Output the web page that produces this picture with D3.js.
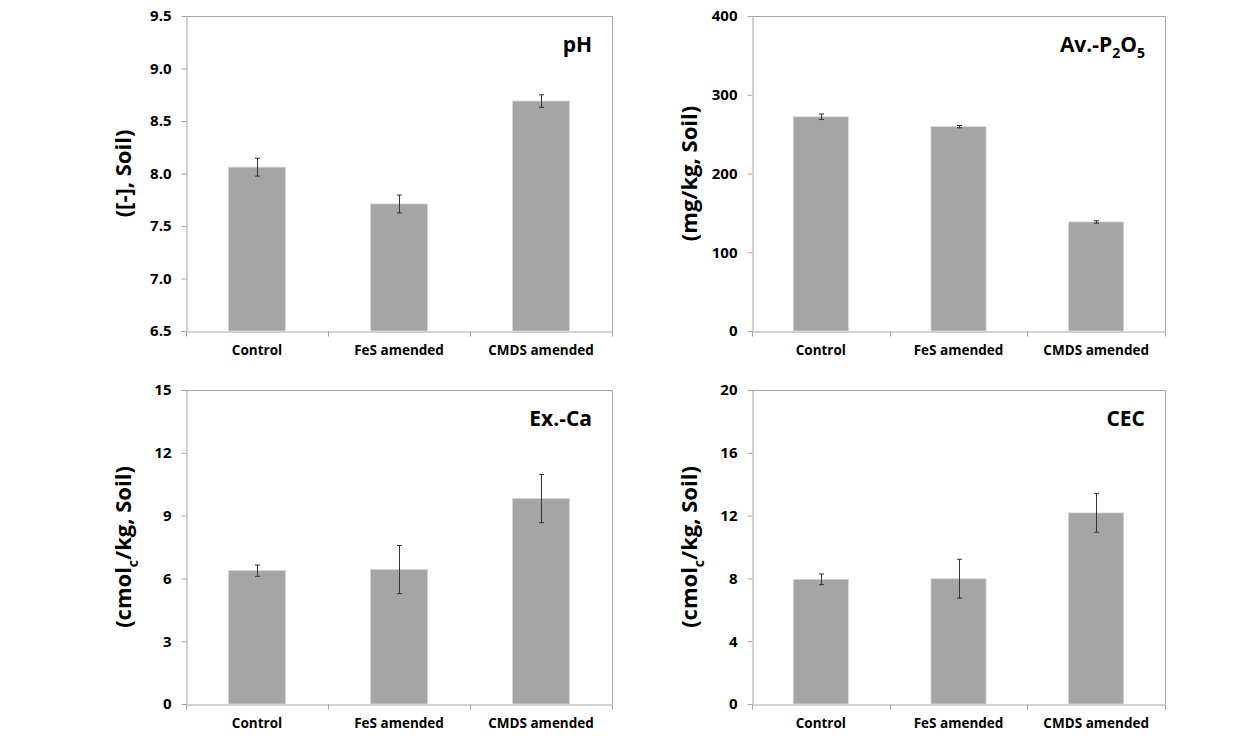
<!DOCTYPE html>
<meta charset="utf-8">
<style>
body { margin: 0; background: #fff; }
svg text { font-family: "Open Sans", "Noto Sans", sans-serif; font-weight: 700; fill: #000; }
.tick-label { font-size: 15px; }
.cat-label { font-size: 13.5px; }
.y-title { font-size: 22px; }
.panel-title { font-size: 21px; }
</style>
<svg width="1239" height="745"></svg>
<script src="https://cdn.jsdelivr.net/npm/d3@7"></script>
<script>

var categories = ["Control", "FeS amended", "CMDS amended"];

var phValues = [8.06, 7.71, 8.69],
    phErrors = [0.085, 0.085, 0.06],
    phTicks = [6.5, 7.0, 7.5, 8.0, 8.5, 9.0, 9.5];

var p2o5Values = [272, 259.5, 138.5],
    p2o5Errors = [3.5, 1.5, 1.5],
    p2o5Ticks = [0, 100, 200, 300, 400];

var caValues = [6.37, 6.42, 9.81],
    caErrors = [0.27, 1.15, 1.15],
    caTicks = [0, 3, 6, 9, 12, 15];

var cecValues = [7.94, 7.98, 12.17],
    cecErrors = [0.34, 1.24, 1.23],
    cecTicks = [0, 4, 8, 12, 16, 20];

var svg = d3.select("svg");

// layout of the four panels (plot area in px)
var panels = [
  {x0: 186, x1: 612, y0: 16, y1: 331, values: phValues, errors: phErrors, ticks: phTicks,
   fmt: d3.format(".1f"), title: [["pH"]], ylab: [["([-], Soil)"]]},
  {x0: 752, x1: 1165, y0: 16, y1: 331, values: p2o5Values, errors: p2o5Errors, ticks: p2o5Ticks,
   fmt: d3.format("d"), title: [["Av.-P"], ["2", "sub"], ["O"], ["5", "sub"]], ylab: [["(mg/kg, Soil)"]]},
  {x0: 186, x1: 612, y0: 390, y1: 704, values: caValues, errors: caErrors, ticks: caTicks,
   fmt: d3.format("d"), title: [["Ex.-Ca"]], ylab: [["(cmol"], ["c", "sub"], ["/kg, Soil)"]]},
  {x0: 752, x1: 1165, y0: 390, y1: 704, values: cecValues, errors: cecErrors, ticks: cecTicks,
   fmt: d3.format("d"), title: [["CEC"]], ylab: [["(cmol"], ["c", "sub"], ["/kg, Soil)"]]}
];

function richText(sel, parts, size) {
  parts.forEach(function(p) {
    var t = sel.append("tspan").text(p[0]);
    if (p[1] === "sub") {
      t.style("font-size", Math.round(size * 0.65) + "px").attr("dy", size * 0.3);
    } else {
      t.attr("dy", sel.selectAll("tspan").size() > 1 ? -size * 0.3 : 0);
    }
  });
}

panels.forEach(function(p) {
  var g = svg.append("g");

  var x = d3.scaleBand().domain(categories).range([p.x0, p.x1]).paddingInner(0).paddingOuter(0);
  var y = d3.scaleLinear().domain([p.ticks[0], p.ticks[p.ticks.length - 1]]).range([p.y1, p.y0]);

  // frame (top and right)
  g.append("path")
      .attr("d", "M" + p.x0 + "," + (p.y0 + 0.5) + "H" + (p.x1 + 0.5) + "V" + p.y1)
      .attr("fill", "none").attr("stroke", "#a6a6a6").attr("stroke-width", 1);

  // y axis
  var yAxis = g.append("g")
      .attr("transform", "translate(" + (p.x0 + 0.5) + ",0)")
      .call(d3.axisLeft(y).tickValues(p.ticks).tickFormat(p.fmt).tickSize(5).tickPadding(10).tickSizeOuter(0));
  yAxis.select(".domain").attr("stroke", "#a6a6a6");
  yAxis.selectAll(".tick line").attr("stroke", "#a6a6a6");
  yAxis.selectAll(".tick text").attr("class", "tick-label").attr("fill", "#000");

  // x axis
  var xAxis = g.append("g")
      .attr("transform", "translate(0," + (p.y1 + 0.5) + ")")
      .call(d3.axisBottom(x).tickSize(0).tickPadding(14));
  xAxis.select(".domain").attr("stroke", "#a6a6a6");
  xAxis.selectAll(".tick text").attr("class", "cat-label").attr("fill", "#000");
  // boundary ticks between categories
  var bounds = categories.map(function(c) { return x(c); }).concat([p.x1]);
  xAxis.selectAll(".bound").data(bounds).enter().append("line")
      .attr("x1", function(d) { return Math.round(d) + 0.5; })
      .attr("x2", function(d) { return Math.round(d) + 0.5; })
      .attr("y1", 0).attr("y2", 5)
      .attr("stroke", "#a6a6a6");

  var bw = x.bandwidth() * 0.4;

  // bars
  g.selectAll(".bar").data(p.values).enter().append("rect")
      .attr("x", function(d, i) { return x(categories[i]) + x.bandwidth() / 2 - bw / 2; })
      .attr("y", function(d) { return y(d); })
      .attr("width", bw)
      .attr("height", function(d) { return p.y1 - y(d); })
      .attr("fill", "#a5a5a5")
      .attr("stroke", "#d4d4d4").attr("stroke-width", 0.8);

  // error bars
  var eb = g.selectAll(".err").data(p.values).enter().append("g")
      .attr("stroke", "#333").attr("stroke-width", 1).attr("fill", "none");
  eb.append("path").attr("d", function(d, i) {
    var cx = Math.round(x(categories[i]) + x.bandwidth() / 2) + 0.5,
        top = y(d + p.errors[i]), bot = y(d - p.errors[i]);
    return "M" + cx + "," + top + "V" + bot +
           "M" + (cx - 2.5) + "," + top + "H" + (cx + 2.5) +
           "M" + (cx - 2.5) + "," + bot + "H" + (cx + 2.5);
  });

  // panel title
  var t = g.append("text").attr("class", "panel-title")
      .attr("x", p.x1 - 20).attr("y", p.y0 + 36)
      .attr("text-anchor", "end");
  richText(t, p.title, 21);

  // y title
  var yl = g.append("text").attr("class", "y-title")
      .attr("text-anchor", "middle")
      .attr("transform", "translate(" + (p.x0 - 55) + "," + ((p.y0 + p.y1) / 2) + ") rotate(-90)");
  richText(yl, p.ylab, 22);
});

</script>
